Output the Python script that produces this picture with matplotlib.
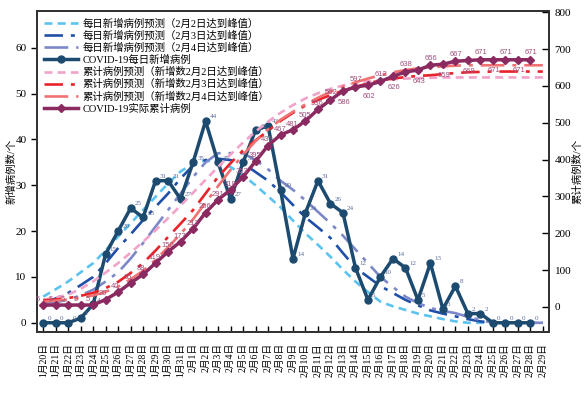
import matplotlib
matplotlib.use("Agg")
import matplotlib.pyplot as plt

plt.rcParams['font.family'] = ['Liberation Serif', 'Noto Sans CJK SC']

dates = ([f"1月{d}日" for d in range(20, 32)] + [f"2月{d}日" for d in range(1, 30)])

daily_actual = [0, 0, 0, 1, 4, 15, 20, 25, 23, 31, 31, 27, 35, 44, 35, 27, 35, 42, 43, 29,
                14, 24, 31, 26, 24, 12, 5, 10, 14, 12, 5, 13, 3, 8, 2, 2, 0, 0, 0, 0]
cum_actual = [5, 5, 5, 5, 5, 20, 40, 65, 88, 119, 150, 177, 212, 256, 291, 318, 353, 395, 438, 467,
              481, 505, 536, 562, 586, 597, 602, 612, 626, 638, 643, 656, 659, 667, 669, 671, 671, 671, 671, 671]

daily_pred_0202 = [5.7, 7.3, 9, 11, 13, 15.8, 18.8, 21.7, 24.6, 27.5, 30.4, 33, 34.8, 35.4, 35, 34, 32.2, 30,
                   27.6, 25.2, 22.3, 19.5, 17, 14.4, 11.6, 9, 6.7, 4.6, 3.6, 2.8, 2, 1.4, 0.8, 0.3,
                   0, 0, 0, 0, 0, 0, 0]
daily_pred_0203 = [4.3, 5.3, 6.5, 8.2, 10, 13, 16.3, 19.3, 22.4, 25.3, 28.2, 31.5, 34.3, 35.5, 35.8, 35.5,
                   34.8, 32.9, 31, 28.5, 25.7, 23, 20.8, 18.5, 15.2, 12, 10, 8, 6.5, 5, 3.8, 2.7, 2, 1.4,
                   0.8, 0.3, 0, 0, 0, 0, 0]
daily_pred_0204 = [4, 4.5, 5, 6, 7.2, 9, 11, 14, 17.4, 21, 24.6, 28.2, 31.8, 35, 37, 37, 37, 35.5, 33.5,
                   31, 29, 26.7, 24.2, 21.7, 19, 16, 13, 10, 7.8, 5.7, 4.3, 3.2, 2.6, 2.1, 1.3, 0.6,
                   0, 0, 0, 0, 0]
cum_pred_0202 = [19, 25, 33, 49, 69, 93, 119, 147, 177, 208, 241, 275, 310, 345, 380, 414, 446, 476, 503,
                 527, 548, 566, 580, 592, 601, 608, 613, 616, 618, 620, 621, 622, 623, 623, 623, 623,
                 623, 623, 623, 623, 623]
cum_pred_0203 = [18, 20, 24, 30, 38, 51, 68, 92, 119, 153, 190, 226, 263, 308, 353, 390, 425, 452, 478,
                 505, 527, 547, 562, 575, 587, 597, 607, 615, 620, 624, 627, 629, 632, 635, 637, 638,
                 639, 639, 639, 639, 639]
cum_pred_0204 = [14, 17, 20, 25, 31, 41, 55, 75, 98, 128, 162, 198, 238, 283, 328, 372, 413, 450, 482,
                 508, 530, 550, 568, 584, 598, 610, 620, 629, 637, 643, 648, 651, 653, 655, 656, 656,
                 656, 656, 656, 656, 656]

legend_labels = ["每日新增病例预测（2月2日达到峰值）", "每日新增病例预测（2月3日达到峰值）",
                 "每日新增病例预测（2月4日达到峰值）", "COVID-19每日新增病例",
                 "累计病例预测（新增数2月2日达到峰值）", "累计病例预测（新增数2月3日达到峰值）",
                 "累计病例预测（新增数2月4日达到峰值）", "COVID-19实际累计病例"]

fig = plt.figure(figsize=(5.86, 3.98), dpi=100)
ax = fig.add_axes([0.063, 0.166, 0.874, 0.806])
ax2 = ax.twinx()

x_all = list(range(len(dates)))
x_act = list(range(len(daily_actual)))

c_lb, c_db, c_lp, c_act = '#5cc3ef', '#1f4fa8', '#7d88c9', '#1d4b70'
c_pk, c_rd, c_sa, c_cum = '#f2a3c9', '#e8232a', '#f07272', '#8b2a60'

l1, = ax.plot(x_all, daily_pred_0202, color=c_lb, lw=1.9, ls=(0, (3, 2)))
l2, = ax.plot(x_all, daily_pred_0203, color=c_db, lw=1.9, ls=(0, (7, 3, 1.5, 3)))
l3, = ax.plot(x_all, daily_pred_0204, color=c_lp, lw=1.9, ls=(0, (9, 3, 1.5, 3)))
l4, = ax.plot(x_act, daily_actual, color=c_act, lw=2.5, marker='o', ms=5)

l5, = ax2.plot(x_all, cum_pred_0202, color=c_pk, lw=1.9, ls=(0, (3, 2)))
l6, = ax2.plot(x_all, cum_pred_0203, color=c_rd, lw=1.9, ls=(0, (7, 3, 1.5, 3)))
l7, = ax2.plot(x_all, cum_pred_0204, color=c_sa, lw=1.9, ls=(0, (9, 3, 1.5, 3)))
l8, = ax2.plot(x_act, cum_actual, color=c_cum, lw=2.5, marker='D', ms=4.5)

for i, v in enumerate(daily_actual):
    ax.annotate(str(v), (i, v), xytext=(3, 2), textcoords='offset points',
                fontsize=5, color='#5b6b9b')
for i, v in enumerate(cum_actual):
    if i < 23:
        off = (-5, 3)
    else:
        off = (-4, 4) if i % 2 == 1 else (-4, -9)
    ax2.annotate(str(v), (i, v), xytext=off, textcoords='offset points',
                 fontsize=5.5, color='#a3507f', family=['Liberation Sans', 'DejaVu Sans'])

ax.set_xlim(-0.5, 40.5)
ax.set_ylim(-2, 68)
ax2.set_ylim(-68, 803)
ax.set_yticks(range(0, 70, 10))
ax2.set_yticks(range(0, 900, 100))
ax.set_xticks(x_all)
ax.set_xticklabels(dates, rotation=90, fontsize=7)
ax.tick_params(axis='x', direction='in', length=4, width=1, pad=8)
ax.tick_params(axis='y', direction='out', length=4, width=1, labelsize=8)
ax2.tick_params(axis='y', direction='in', length=5, width=1, labelsize=8, pad=4)
for a in (ax, ax2):
    for s in a.spines.values():
        s.set_linewidth(1.4)
        s.set_color('#333333')

ax.set_ylabel("新增病例数/个", fontsize=7.5)
ax.yaxis.set_label_coords(-0.040, 0.5)
ax2.set_ylabel("累计病例数/个", fontsize=7.5, rotation=90)
ax2.yaxis.set_label_coords(1.045, 0.5)

ax2.legend([l1, l2, l3, l4, l5, l6, l7, l8], legend_labels, loc='upper left',
           frameon=False, fontsize=7.5, handlelength=3.2, labelspacing=0.18,
           borderaxespad=0.3, handletextpad=0.5)

fig.savefig("out.png", dpi=100)
